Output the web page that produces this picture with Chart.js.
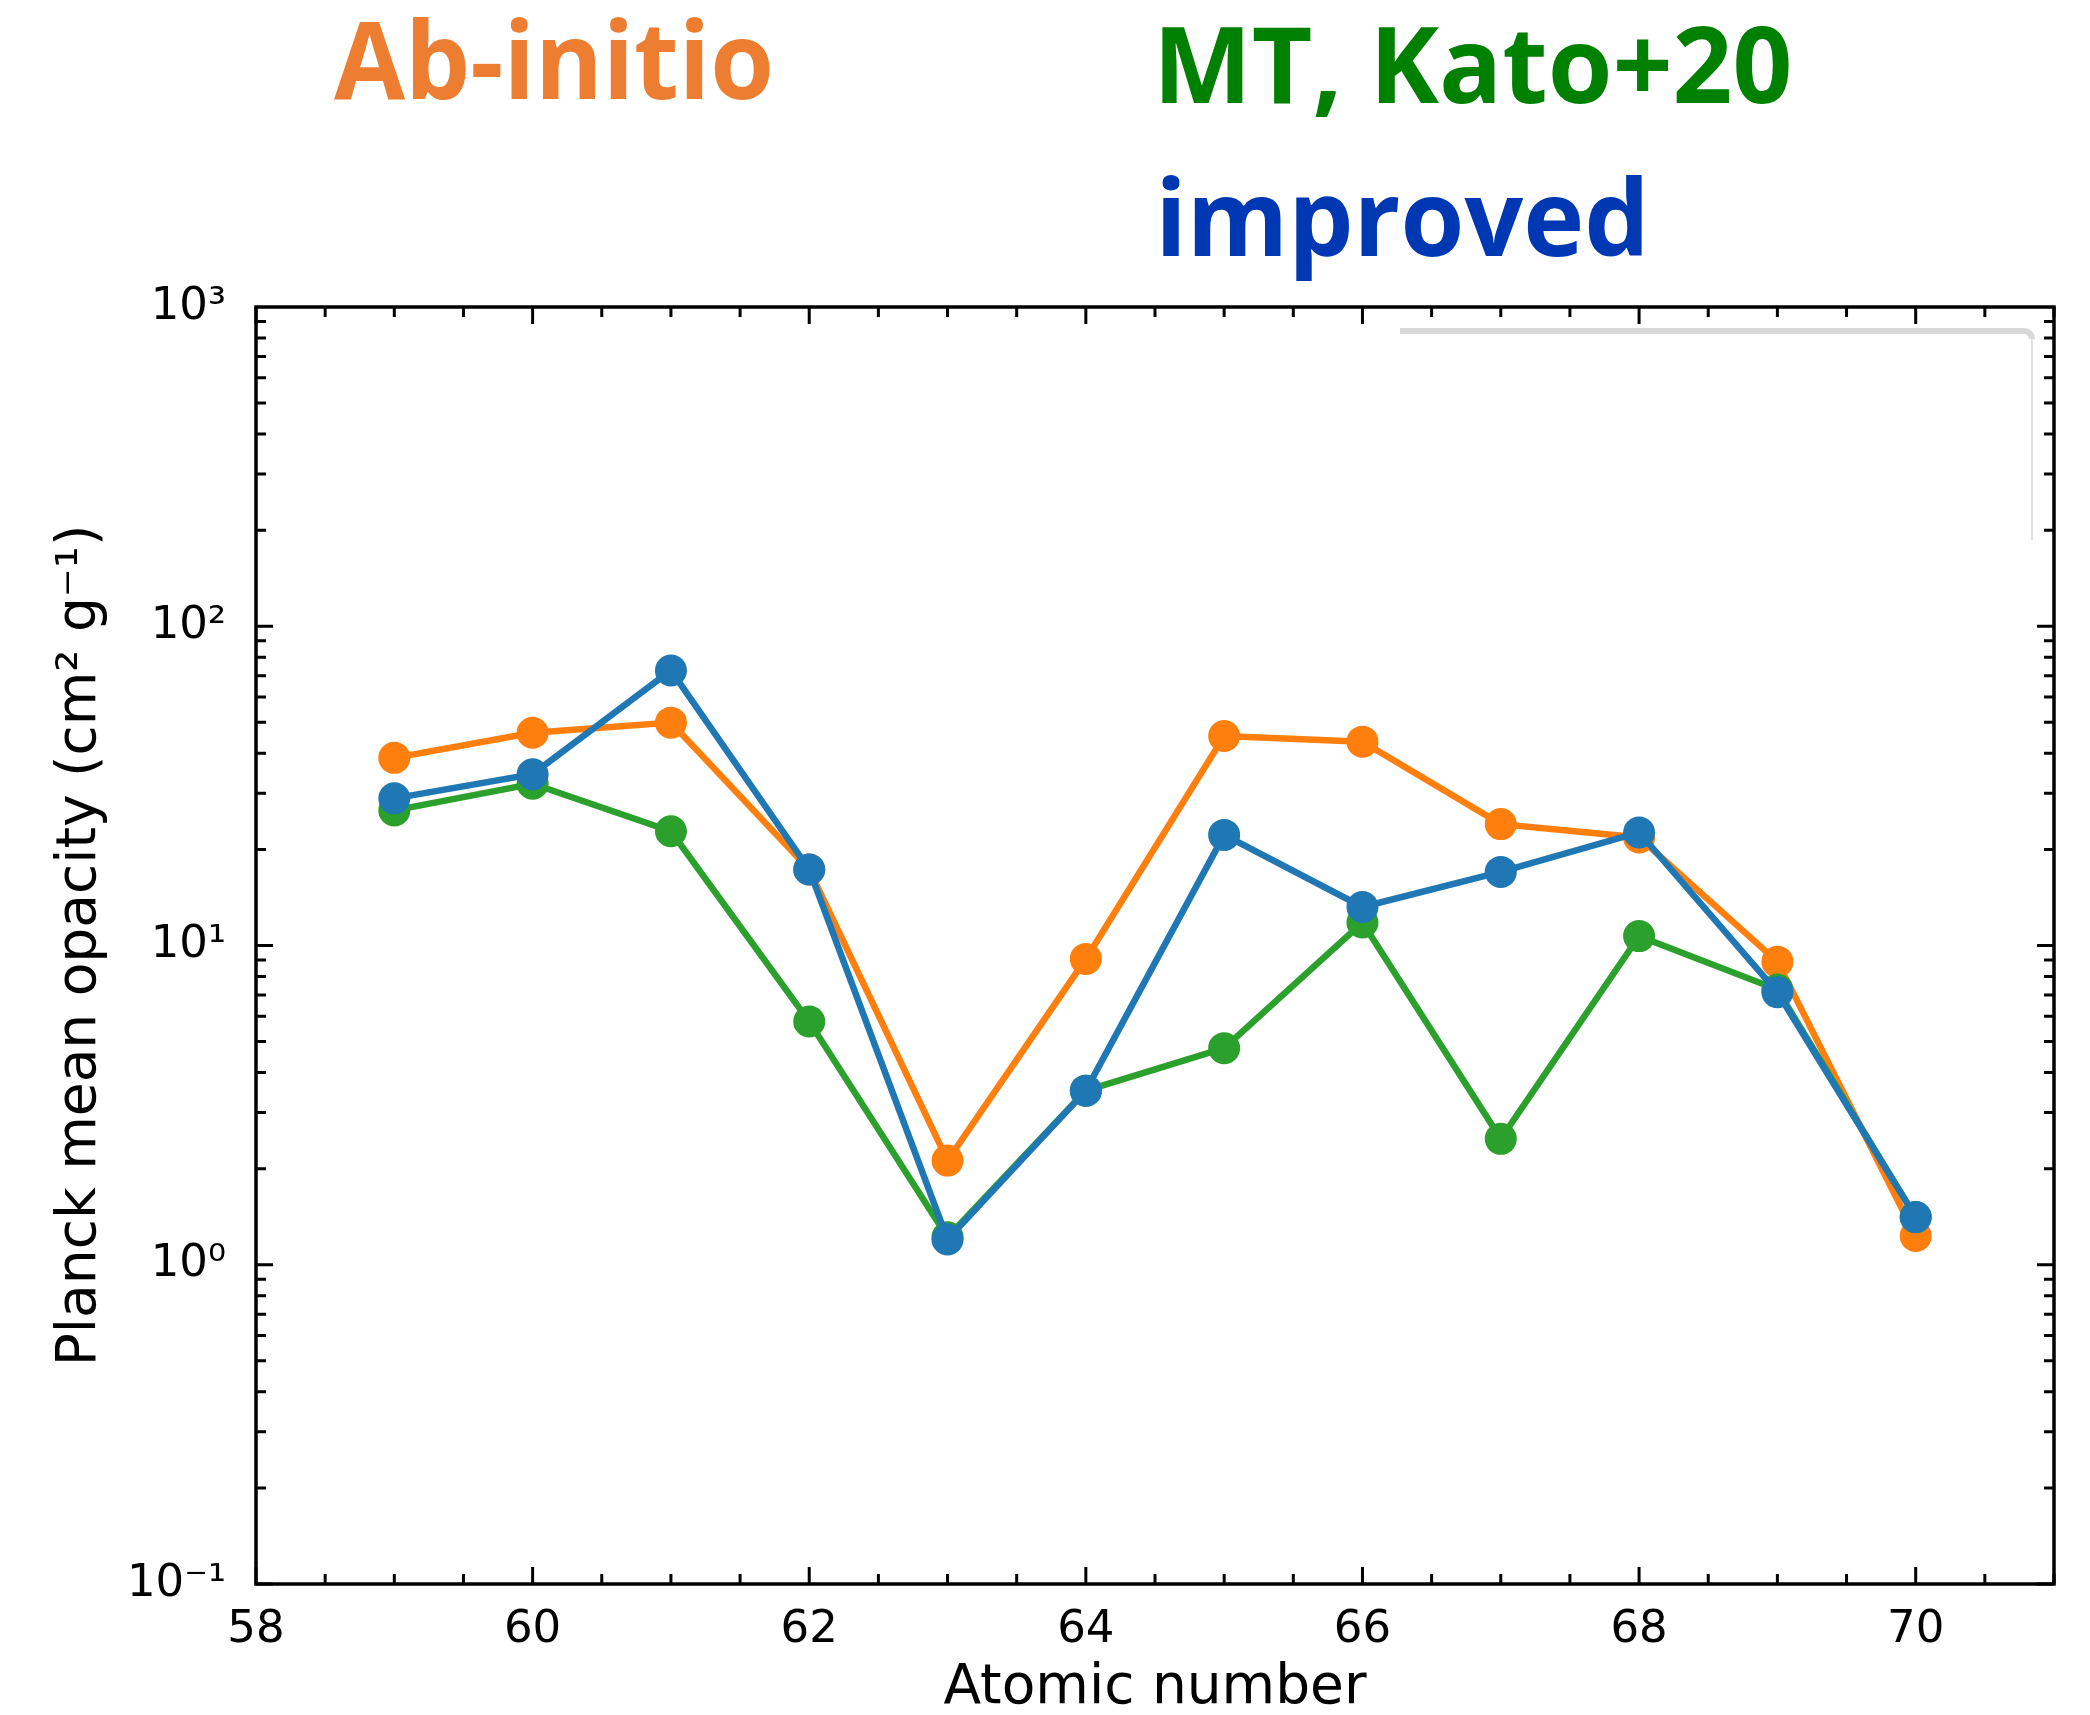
<!DOCTYPE html>
<html>
<head>
<meta charset="utf-8">
<script src="https://cdn.jsdelivr.net/npm/chart.js@4.4.1/dist/chart.umd.min.js"></script>
<style>
    html, body { margin: 0; padding: 0; background: #fff; }
    canvas { display: block; }
</style>
</head>
<body>
<canvas id="opacityChart" width="2090" height="1715"></canvas>
<script>
// Values
const atomicNumbers = [59, 60, 61, 62, 63, 64, 65, 66, 67, 68, 69, 70];
const abInitio = [38.7, 46.4, 49.9, 17.3, 2.12, 9.08, 45.3, 43.5, 24.0, 21.8, 8.9, 1.23];
const mtKato = [26.5, 32.1, 22.8, 5.78, 1.22, 3.51, 4.77, 11.8, 2.48, 10.7, 7.28, 1.41];
const improved = [28.9, 34.4, 72.7, 17.3, 1.20, 3.51, 22.2, 13.2, 17.0, 22.6, 7.14, 1.41];

const xTickValues = [58, 60, 62, 64, 66, 68, 70];
const yTickValues = [0.1, 1, 10, 100, 1000];
const yTickLabels = ["10⁻¹", "10⁰", "10¹", "10²", "10³"];

const seriesNames = ["Ab-initio", "MT, Kato+20", "improved"];

function toPoints(values) {
    return atomicNumbers.map((z, i) => ({ x: z, y: values[i] }));
}

function lineDataset(label, values, color) {
    return {
        label: label,
        data: toPoints(values),
        borderColor: color,
        backgroundColor: color,
        borderWidth: 6.5,
        pointRadius: 16,
        pointBorderWidth: 0,
        pointBackgroundColor: color,
        tension: 0,
    };
}

// Fit a heading into the box it takes in the reference
function drawHeading(ctx, text, color, left, right, baseline, capHeight) {
    ctx.save();
    ctx.font = 'bold 100px "Open Sans"';
    const cap = ctx.measureText("H").actualBoundingBoxAscent;
    const size = (100 * capHeight) / cap;
    ctx.font = "bold " + size + 'px "Open Sans"';
    ctx.textAlign = "left";
    ctx.textBaseline = "alphabetic";
    const m = ctx.measureText(text);
    const inkWidth = m.actualBoundingBoxLeft + m.actualBoundingBoxRight;
    ctx.translate(left, baseline);
    ctx.scale((right - left) / inkWidth, 1);
    ctx.fillStyle = color;
    ctx.fillText(text, m.actualBoundingBoxLeft, 0);
    ctx.restore();
}

// Inward ticks on all four sides, the axes frame, and the headings
const framePlugin = {
    id: "frame",
    beforeDatasetsDraw(chart) {
        const ctx = chart.ctx;
        // faint leftover legend frame in the upper right
        ctx.save();
        ctx.strokeStyle = "#d8d8d8";
        ctx.lineWidth = 6;
        ctx.beginPath();
        ctx.moveTo(1400, 331);
        ctx.lineTo(2024, 331);
        ctx.arcTo(2032, 331, 2032, 340, 8);
        ctx.stroke();
        ctx.lineWidth = 2;
        ctx.strokeStyle = "#e2e2e2";
        ctx.beginPath();
        ctx.moveTo(2032, 338);
        ctx.lineTo(2032, 540);
        ctx.stroke();
        ctx.restore();
    },
    afterDraw(chart) {
        const ctx = chart.ctx;
        const { left, right, top, bottom } = chart.chartArea;
        const xs = chart.scales.x;
        const ys = chart.scales.y;
        ctx.save();
        ctx.strokeStyle = "#000";
        ctx.lineWidth = 3;
        ctx.beginPath();
        for (let v = xs.min; v <= xs.max + 1e-9; v += 0.5) {
            const major = xTickValues.includes(v);
            const len = major ? 17 : 10;
            const px = xs.getPixelForValue(v);
            ctx.moveTo(px, bottom);
            ctx.lineTo(px, bottom - len);
            ctx.moveTo(px, top);
            ctx.lineTo(px, top + len);
        }
        for (let d = 0.1; d < 1000; d *= 10) {
            for (let k = 1; k <= 9; k++) {
                const len = k === 1 ? 17 : 10;
                const py = ys.getPixelForValue(d * k);
                ctx.moveTo(left, py);
                ctx.lineTo(left + len, py);
                ctx.moveTo(right, py);
                ctx.lineTo(right - len, py);
            }
        }
        ctx.stroke();
        ctx.lineWidth = 3.5;
        ctx.strokeRect(left, top, right - left, bottom - top);
        ctx.restore();

        drawHeading(ctx, seriesNames[0], "#ED7D31", 334, 770, 99, 77);
        drawHeading(ctx, seriesNames[1], "#008000", 1162, 1789, 103, 76);
        drawHeading(ctx, seriesNames[2], "#0038B4", 1162, 1642, 256, 76);
    },
};

const ctx = document.getElementById("opacityChart").getContext("2d");

const opacityChart = new Chart(ctx, {
    type: "line",
    data: {
        datasets: [
            lineDataset(seriesNames[2], improved, "#1f77b4"),
            lineDataset(seriesNames[1], mtKato, "#2ca02c"),
            lineDataset(seriesNames[0], abInitio, "#ff7f0e"),
        ],
    },
    options: {
        responsive: false,
        animation: false,
        devicePixelRatio: 1,
        layout: {
            padding: { left: 0, top: 307, right: 36, bottom: 0 },
        },
        plugins: {
            legend: { display: false },
            tooltip: { enabled: false },
        },
        scales: {
            x: {
                type: "linear",
                min: 58,
                max: 71,
                grid: { display: false },
                border: { display: false },
                afterBuildTicks: (scale) => {
                    scale.ticks = xTickValues.map((v) => ({ value: v }));
                },
                afterFit: (scale) => {
                    scale.height = 131;
                },
                ticks: {
                    color: "#000",
                    padding: 11,
                    maxRotation: 0,
                    autoSkip: false,
                    font: { family: "DejaVu Sans", size: 45 },
                    callback: (value) => String(value),
                },
                title: {
                    display: true,
                    text: "Atomic number",
                    color: "#000",
                    padding: { top: 0, bottom: 0 },
                    font: { family: "DejaVu Sans", size: 55, lineHeight: 0.94 },
                },
            },
            y: {
                type: "logarithmic",
                min: 0.1,
                max: 1000,
                grid: { display: false },
                border: { display: false },
                afterBuildTicks: (scale) => {
                    scale.ticks = yTickValues.map((v) => ({ value: v }));
                },
                afterFit: (scale) => {
                    scale.width = 256;
                },
                ticks: {
                    color: "#000",
                    padding: 22,
                    autoSkip: false,
                    font: { family: "DejaVu Sans", size: 45 },
                    callback: (value) => {
                        const i = yTickValues.findIndex((t) => Math.abs(t - value) < t * 1e-6);
                        return i >= 0 ? yTickLabels[i] : "";
                    },
                },
                title: {
                    display: true,
                    text: "Planck mean opacity (cm² g⁻¹)",
                    color: "#000",
                    padding: { top: 55, bottom: 0 },
                    font: { family: "DejaVu Sans", size: 55, lineHeight: 0.94 },
                },
            },
        },
    },
    plugins: [framePlugin],
});
</script>
</body>
</html>
